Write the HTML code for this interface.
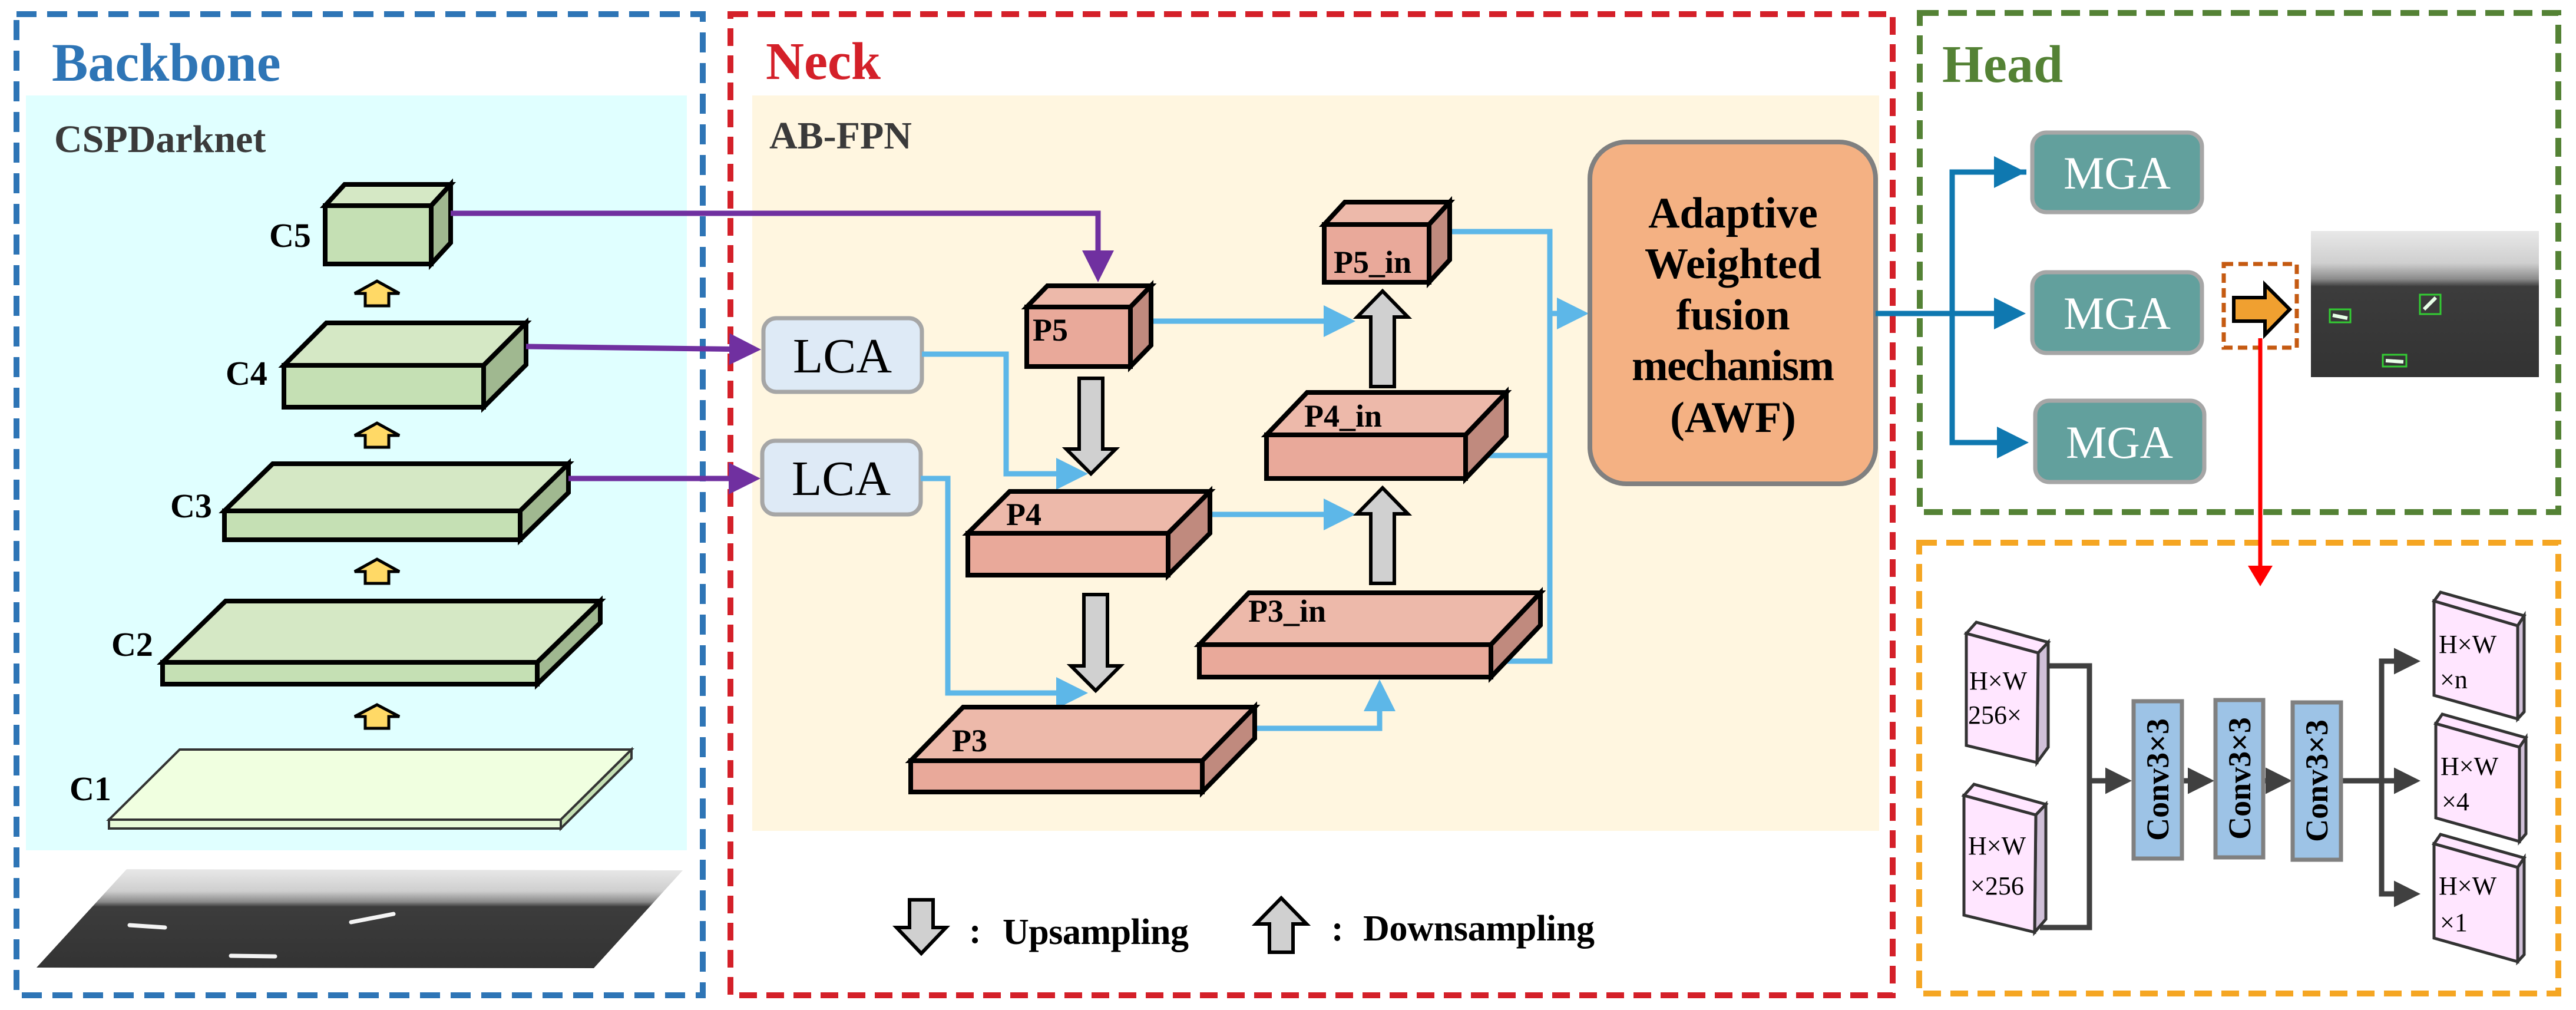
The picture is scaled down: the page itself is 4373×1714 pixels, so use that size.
<!DOCTYPE html>
<html><head><meta charset="utf-8"><style>
html,body{margin:0;padding:0;background:#fff;}
svg{display:block;}
text{font-family:"Liberation Serif",serif;font-weight:bold;}
</style></head><body>
<svg width="4373" height="1714" viewBox="0 0 4373 1714" xmlns="http://www.w3.org/2000/svg">
<defs>
<linearGradient id="sar" x1="0" y1="0" x2="0" y2="1">
<stop offset="0" stop-color="#e8e8e8"/><stop offset="0.22" stop-color="#cfcfcf"/><stop offset="0.33" stop-color="#8a8a8a"/><stop offset="0.38" stop-color="#3c3c3c"/><stop offset="1" stop-color="#333"/>
</linearGradient>
<marker id="ab" markerWidth="6" markerHeight="6" refX="5" refY="3" orient="auto" markerUnits="strokeWidth"><path d="M0,0 L6,3 L0,6 Z" fill="#5DB7E8"/></marker>
<marker id="ap" markerWidth="6" markerHeight="6" refX="5" refY="3" orient="auto" markerUnits="strokeWidth"><path d="M0,0 L6,3 L0,6 Z" fill="#7030A0"/></marker>
<marker id="ad" markerWidth="6" markerHeight="6" refX="5" refY="3" orient="auto" markerUnits="strokeWidth"><path d="M0,0 L6,3 L0,6 Z" fill="#0F78B0"/></marker>
<marker id="ag" markerWidth="5" markerHeight="5" refX="4" refY="2.5" orient="auto" markerUnits="strokeWidth"><path d="M0,0 L5,2.5 L0,5 Z" fill="#404040"/></marker>
<marker id="ar" markerWidth="5" markerHeight="6" refX="4" refY="3" orient="auto" markerUnits="strokeWidth"><path d="M0,0 L5,3 L0,6 Z" fill="#ff0000"/></marker>
</defs>

<!-- Backbone -->
<rect x="44" y="162" width="1122" height="1281" fill="#E0FFFF"/>
<rect x="28" y="24" width="1165" height="1665" fill="none" stroke="#2E75B6" stroke-width="10" stroke-dasharray="34,18"/>
<text x="88" y="137" font-size="92" fill="#2E75B6">Backbone</text>
<text x="92" y="258" font-size="66" fill="#3a3a3a">CSPDarknet</text>

<g stroke="#000" stroke-width="8" stroke-linejoin="miter">
<polygon points="552,349 585,313 765,313 732,349" fill="#D5E8C5"/>
<polygon points="732,349 765,313 765,412 732,448" fill="#A0B890"/>
<rect x="552" y="349" width="180" height="99" fill="#C5E0B4"/>
<polygon points="482,620 554,548 893,548 821,620" fill="#D5E8C5"/>
<polygon points="821,620 893,548 893,619 821,691" fill="#A0B890"/>
<rect x="482" y="620" width="339" height="71" fill="#C5E0B4"/>
<polygon points="381,867 463,787 965,787 883,867" fill="#D5E8C5"/>
<polygon points="883,867 965,787 965,836 883,916" fill="#A0B890"/>
<rect x="381" y="867" width="502" height="49" fill="#C5E0B4"/>
<polygon points="276,1124 383,1020 1019,1020 912,1124" fill="#D5E8C5"/>
<polygon points="912,1124 1019,1020 1019,1057 912,1161" fill="#A0B890"/>
<rect x="276" y="1124" width="636" height="37" fill="#C5E0B4"/>
</g>
<g stroke="#333" stroke-width="4">
<polygon points="185,1391 305,1272 1072,1272 952,1391" fill="#F0FFE0"/>
<polygon points="952,1391 1072,1272 1072,1287 952,1406" fill="#C5E0B4"/>
<rect x="185" y="1391" width="767" height="15" fill="#E8F8D8"/>
</g>
<g font-size="58" fill="#000">
<text x="457" y="419">C5</text>
<text x="383" y="653">C4</text>
<text x="289" y="878">C3</text>
<text x="189" y="1113">C2</text>
<text x="118" y="1358">C1</text>
</g>
<g fill="#FFD966" stroke="#000" stroke-width="5">
<path d="M640,477 L678,498 L660,498 L660,519 L620,519 L620,498 L602,498 Z"/>
<path d="M640,718 L678,739 L660,739 L660,759 L620,759 L620,739 L602,739 Z"/>
<path d="M640,949 L678,970 L660,970 L660,990 L620,990 L620,970 L602,970 Z"/>
<path d="M640,1196 L678,1216 L660,1216 L660,1236 L620,1236 L620,1216 L602,1216 Z"/>
</g>
<polygon points="62,1642 215,1475 1159,1477 1008,1643" fill="url(#sar)"/>
<g stroke="#fff" stroke-width="7" opacity="0.95" stroke-linecap="round">
<line x1="220" y1="1570" x2="280" y2="1574"/><line x1="596" y1="1565" x2="668" y2="1551"/><line x1="392" y1="1622" x2="467" y2="1623"/>
</g>

<!-- Neck -->
<rect x="1277" y="162" width="1913" height="1248" fill="#FFF6E0"/>
<rect x="1240" y="24" width="1973" height="1665" fill="none" stroke="#D42029" stroke-width="10" stroke-dasharray="30,16"/>
<text x="1300" y="134" font-size="90" fill="#D42029">Neck</text>
<text x="1306" y="252" font-size="66" fill="#3a3a3a">AB-FPN</text>

<g stroke="#7030A0" stroke-width="9" fill="none">
<polyline points="765,362 1864,362 1864,470" marker-end="url(#ap)"/>
<polyline points="893,588 1283,593" marker-end="url(#ap)"/>
<polyline points="965,812 1282,812" marker-end="url(#ap)"/>
</g>

<rect x="1296" y="540" width="269" height="125" rx="22" fill="#DEEAF6" stroke="#A6A6A6" stroke-width="7"/>
<rect x="1294" y="748" width="269" height="125" rx="22" fill="#DEEAF6" stroke="#A6A6A6" stroke-width="7"/>
<text x="1430" y="632" font-size="84" style="font-weight:normal" text-anchor="middle">LCA</text>
<text x="1428" y="840" font-size="84" style="font-weight:normal" text-anchor="middle">LCA</text>

<g stroke="#5DB7E8" stroke-width="9" fill="none">
<polyline points="1565,601 1708,601 1708,804 1838,804" marker-end="url(#ab)"/>
<polyline points="1563,812 1609,812 1609,1176 1838,1176" marker-end="url(#ab)"/>
<polyline points="1954,545 2292,545" marker-end="url(#ab)"/>
<polyline points="2054,873 2292,873" marker-end="url(#ab)"/>
<polyline points="2130,1236 2342,1236 2342,1162" marker-end="url(#ab)"/>
<polyline points="2461,393 2631,393 2631,1122 2557,1122"/>
<polyline points="2525,773 2631,773"/>
<polyline points="2631,532 2688,532" marker-end="url(#ab)"/>
</g>

<g stroke="#000" stroke-width="8">
<polygon points="1743,521 1778,485 1954,485 1919,521" fill="#EDB9AA"/>
<polygon points="1919,521 1954,485 1954,586 1919,622" fill="#C08A7E"/>
<rect x="1743" y="521" width="176" height="101" fill="#E9A99A"/>
<polygon points="2248,381 2283,343 2461,343 2426,381" fill="#EDB9AA"/>
<polygon points="2426,381 2461,343 2461,441 2426,479" fill="#C08A7E"/>
<rect x="2248" y="381" width="178" height="98" fill="#E9A99A"/>
<polygon points="2150,738 2219,666 2557,666 2488,738" fill="#EDB9AA"/>
<polygon points="2488,738 2557,666 2557,740 2488,812" fill="#C08A7E"/>
<rect x="2150" y="738" width="338" height="74" fill="#E9A99A"/>
<polygon points="1643,905 1714,834 2054,834 1983,905" fill="#EDB9AA"/>
<polygon points="1983,905 2054,834 2054,905 1983,976" fill="#C08A7E"/>
<rect x="1643" y="905" width="340" height="71" fill="#E9A99A"/>
<polygon points="2036,1094 2120,1006 2615,1006 2531,1094" fill="#EDB9AA"/>
<polygon points="2531,1094 2615,1006 2615,1061 2531,1149" fill="#C08A7E"/>
<rect x="2036" y="1094" width="495" height="55" fill="#E9A99A"/>
<polygon points="1546,1291 1635,1200 2130,1200 2041,1291" fill="#EDB9AA"/>
<polygon points="2041,1291 2130,1200 2130,1253 2041,1344" fill="#C08A7E"/>
<rect x="1546" y="1291" width="495" height="53" fill="#E9A99A"/>
</g>
<g font-size="54" fill="#000">
<text x="1753" y="578">P5</text>
<text x="2264" y="463">P5_in</text>
<text x="2214" y="724">P4_in</text>
<text x="1708" y="891">P4</text>
<text x="2119" y="1055">P3_in</text>
<text x="1616" y="1275">P3</text>
</g>

<g fill="#D0D0D0" stroke="#000" stroke-width="6">
<path d="M1832,642 L1872,642 L1872,762 L1894,762 L1852,804 L1810,762 L1832,762 Z"/>
<path d="M1840,1009 L1880,1009 L1880,1130 L1902,1130 L1860,1172 L1818,1130 L1840,1130 Z"/>
<path d="M2347,494 L2390,538 L2367,538 L2367,656 L2327,656 L2327,538 L2304,538 Z"/>
<path d="M2347,828 L2390,872 L2367,872 L2367,990 L2327,990 L2327,872 L2304,872 Z"/>
<path d="M1544,1527 L1584,1527 L1584,1574 L1606,1574 L1564,1618 L1522,1574 L1544,1574 Z"/>
<path d="M2175,1524 L2218,1568 L2195,1568 L2195,1616 L2155,1616 L2155,1568 L2132,1568 Z"/>
</g>
<g font-size="62" fill="#000">
<text x="1645" y="1600">:</text>
<text x="1702" y="1602" textLength="316">Upsampling</text>
<text x="2260" y="1596">:</text>
<text x="2314" y="1596" textLength="393">Downsampling</text>
</g>

<rect x="2699" y="241" width="485" height="580" rx="62" fill="#F4B183" stroke="#808080" stroke-width="8"/>
<g font-size="74" fill="#000" text-anchor="middle">
<text x="2942" y="386">Adaptive</text>
<text x="2942" y="472">Weighted</text>
<text x="2942" y="559">fusion</text>
<text x="2942" y="645" textLength="344">mechanism</text>
<text x="2942" y="733">(AWF)</text>
</g>

<!-- Head -->
<rect x="3259" y="22" width="1084" height="847" fill="none" stroke="#548235" stroke-width="10" stroke-dasharray="32,16"/>
<text x="3297" y="139" font-size="90" fill="#548235">Head</text>
<g stroke="#0F78B0" stroke-width="9" fill="none">
<polyline points="3184,532 3430,532" marker-end="url(#ad)"/>
<polyline points="3440,292 3314,292 3314,751 3435,751" />
<polyline points="3314,292 3430,292" marker-end="url(#ad)"/>
<polyline points="3314,751 3435,751" marker-end="url(#ad)"/>
</g>
<g fill="#62A09D" stroke="#A6A6A6" stroke-width="7">
<rect x="3450" y="225" width="288" height="135" rx="24"/>
<rect x="3450" y="462" width="288" height="137" rx="24"/>
<rect x="3455" y="680" width="287" height="138" rx="24"/>
</g>
<g font-size="78" fill="#fff" text-anchor="middle">
<text x="3594" y="320" style="font-weight:normal">MGA</text>
<text x="3594" y="558" style="font-weight:normal">MGA</text>
<text x="3598" y="777" style="font-weight:normal">MGA</text>
</g>
<rect x="3775" y="448" width="124" height="142" fill="none" stroke="#C55A11" stroke-width="7" stroke-dasharray="16,9"/>
<path d="M3792,505 L3845,505 L3845,483 L3887,525 L3845,568 L3845,545 L3792,545 Z" fill="#F0A030" stroke="#000" stroke-width="6"/>
<rect x="3923" y="392" width="387" height="248" fill="url(#sar)"/>
<g stroke="#e8ffe8" stroke-width="6"><line x1="3960" y1="535" x2="3985" y2="540"/><line x1="4115" y1="525" x2="4135" y2="505"/><line x1="4050" y1="612" x2="4080" y2="614"/></g>
<g stroke="#33cc33" stroke-width="3" fill="none"><rect x="3955" y="525" width="35" height="22"/><rect x="4108" y="500" width="35" height="33"/><rect x="4045" y="602" width="40" height="20"/></g>

<rect x="3258" y="921" width="1085" height="765" fill="none" stroke="#F5A623" stroke-width="10" stroke-dasharray="30,16"/>
<line x1="3837" y1="574" x2="3837" y2="988" stroke="#ff0000" stroke-width="7" marker-end="url(#ar)"/>

<g stroke="#404040" stroke-width="9" fill="none">
<polyline points="3463,1130 3547,1130 3547,1574 3463,1574"/>
<polyline points="3547,1325 3610,1325" marker-end="url(#ag)"/>
<polyline points="3704,1325 3750,1325" marker-end="url(#ag)"/>
<polyline points="3842,1325 3882,1325" marker-end="url(#ag)"/>
<polyline points="3974,1325 4043,1325 4043,1122 4100,1122" />
<polyline points="4043,1122 4100,1122" marker-end="url(#ag)"/>
<polyline points="4043,1325 4100,1325" marker-end="url(#ag)"/>
<polyline points="4043,1325 4043,1517 4100,1517" marker-end="url(#ag)"/>
</g>
<g fill="#9DC3E6" stroke="#808080" stroke-width="7">
<rect x="3622" y="1190" width="82" height="267"/>
<rect x="3761" y="1188" width="81" height="267"/>
<rect x="3892" y="1192" width="82" height="267"/>
</g>
<g font-size="54" fill="#000" text-anchor="middle">
<text transform="translate(3681,1323) rotate(-90)">Conv3×3</text>
<text transform="translate(3820,1321) rotate(-90)">Conv3×3</text>
<text transform="translate(3951,1325) rotate(-90)">Conv3×3</text>
</g>
<g stroke="#333" stroke-width="5">
<polygon points="3338,1075 3355,1056 3477,1090 3460,1108" fill="#FFE6FF"/>
<polygon points="3460,1108 3477,1090 3477,1268 3458,1294" fill="#D0C0D8"/>
<polygon points="3338,1075 3460,1108 3458,1294 3338,1265" fill="#FFE6FF"/>
<polygon points="3334,1350 3351,1331 3473,1365 3456,1383" fill="#FFE6FF"/>
<polygon points="3456,1383 3473,1365 3473,1560 3454,1582" fill="#D0C0D8"/>
<polygon points="3334,1350 3456,1383 3454,1582 3334,1553" fill="#FFE6FF"/>
<polygon points="4132,1020 4143,1005 4285,1045 4274,1062" fill="#FFE6FF"/>
<polygon points="4274,1062 4285,1045 4285,1208 4274,1220" fill="#D0C0D8"/>
<polygon points="4132,1020 4274,1062 4274,1220 4132,1180" fill="#FFE6FF"/>
<polygon points="4135,1228 4146,1212 4288,1252 4277,1268" fill="#FFE6FF"/>
<polygon points="4277,1268 4288,1252 4288,1415 4277,1428" fill="#D0C0D8"/>
<polygon points="4135,1228 4277,1268 4277,1428 4135,1388" fill="#FFE6FF"/>
<polygon points="4132,1432 4143,1416 4285,1456 4274,1472" fill="#FFE6FF"/>
<polygon points="4274,1472 4285,1456 4285,1620 4274,1632" fill="#D0C0D8"/>
<polygon points="4132,1432 4274,1472 4274,1632 4132,1592" fill="#FFE6FF"/>
</g>
<g font-size="44" fill="#000">
<text x="3343" y="1170" style="font-weight:normal">H×W</text>
<text x="3341" y="1228" style="font-weight:normal">256×</text>
<text x="3341" y="1450" style="font-weight:normal">H×W</text>
<text x="3345" y="1518" style="font-weight:normal">×256</text>
<text x="4140" y="1108" style="font-weight:normal">H×W</text>
<text x="4142" y="1168" style="font-weight:normal">×n</text>
<text x="4143" y="1315" style="font-weight:normal">H×W</text>
<text x="4145" y="1375" style="font-weight:normal">×4</text>
<text x="4140" y="1518" style="font-weight:normal">H×W</text>
<text x="4142" y="1580" style="font-weight:normal">×1</text>
</g>
</svg>
</body></html>
